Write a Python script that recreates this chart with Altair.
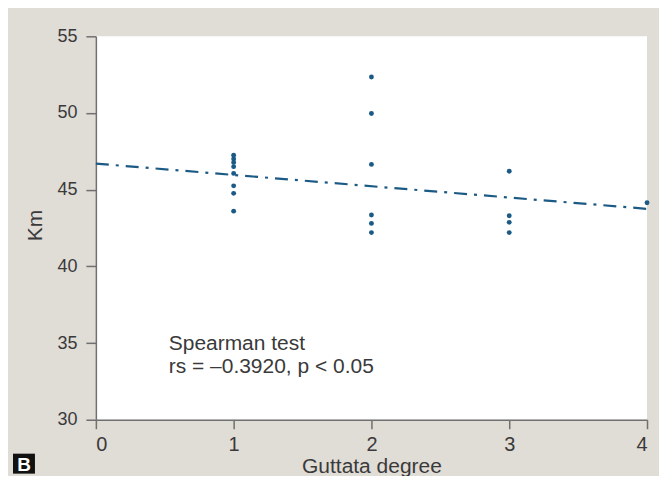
import altair as alt
import pandas as pd

# Data
guttata = [1, 1, 1, 1, 1, 1, 1, 1, 2, 2, 2, 2, 2, 2, 3, 3, 3, 3, 4]
km = [47.25, 47.0, 46.78, 46.5, 46.06, 45.25, 44.76, 43.6,
      52.35, 49.97, 46.65, 43.35, 42.8, 42.2,
      46.2, 43.3, 42.87, 42.2,
      44.15]
fit_x = [0, 4]
fit_y = [46.7, 43.75]
x_ticks = [0, 1, 2, 3, 4]
y_ticks = [30, 35, 40, 45, 50, 55]
note_lines = ["Spearman test", "rs = \u20130.3920, p < 0.05"]

FONT = "Liberation Sans"
TXT = "#3a3a3a"
AX = "#707070"
BLUE = "#1c5a86"

pts = pd.DataFrame({"g": guttata, "km": km})
fit = pd.DataFrame({"g": fit_x, "km": fit_y})
notes = pd.DataFrame({"t": note_lines, "i": [0, 1]})

xscale = alt.Scale(domain=[0, 4], nice=False, zero=False)
yscale = alt.Scale(domain=[30, 55], nice=False, zero=False)

xaxis = alt.Axis(values=x_ticks, format="d", title="Guttata degree", grid=False,
                 domainColor=AX, domainWidth=1.5, tickColor=AX, tickWidth=1.5,
                 tickSize=9, labelPadding=6, labelFontSize=20, labelColor=TXT,
                 labelFont=FONT, titleFont=FONT, titleFontSize=21,
                 titleFontWeight="normal", titleColor=TXT,
                 titleBaseline="middle", titleY=47)
yaxis = alt.Axis(values=y_ticks, format="d", title="Km", grid=False,
                 domainColor=AX, domainWidth=1.5, tickColor=AX, tickWidth=1.5,
                 tickSize=10, labelPadding=9, labelFontSize=18, labelColor=TXT,
                 labelFont=FONT, titleFont=FONT, titleFontSize=21,
                 titleFontWeight="normal", titleColor=TXT,
                 titleBaseline="middle", titleAlign="center",
                 titleX=-60, titleY=189, titleAngle=-90)

line = alt.Chart(fit).mark_line(color=BLUE, strokeWidth=2.2,
                                strokeDash=[13, 7, 3, 7]).encode(
    x=alt.X("g:Q", scale=xscale, axis=xaxis),
    y=alt.Y("km:Q", scale=yscale, axis=yaxis),
)

points = alt.Chart(pts).mark_circle(size=24, color=BLUE, opacity=1, clip=False).encode(
    x=alt.X("g:Q", scale=xscale, axis=xaxis),
    y=alt.Y("km:Q", scale=yscale, axis=yaxis),
)

note1 = alt.Chart(notes).transform_filter("datum.i == 0").mark_text(
    align="left", baseline="alphabetic", font=FONT, fontSize=21, color=TXT).encode(
    x=alt.value(73), y=alt.value(314), text="t:N",
)
note2 = alt.Chart(notes).transform_filter("datum.i == 1").mark_text(
    align="left", baseline="alphabetic", font=FONT, fontSize=21, color=TXT).encode(
    x=alt.value(73), y=alt.value(337), text="t:N",
)

badge_box = alt.Chart(pd.DataFrame({"b": ["B"]})).mark_rect(color="#111111").encode(
    x=alt.value(-83), x2=alt.value(-61), y=alt.value(418), y2=alt.value(438),
)
badge_txt = alt.Chart(pd.DataFrame({"b": ["B"]})).mark_text(
    font=FONT, fontSize=19, fontWeight="bold", color="white",
    align="center", baseline="middle").encode(
    x=alt.value(-72), y=alt.value(429), text="b:N",
)

chart = alt.layer(line, points, note1, note2, badge_box, badge_txt).properties(
    width=552, height=384,
    autosize=alt.AutoSizeParams(type="none"),
    padding={"left": 88, "top": 28, "right": 12, "bottom": 56},
    background="#e0dcd6",
).configure_view(fill="white", strokeWidth=0)

chart.save("out.html", embed_options={"renderer": "svg", "actions": False})
